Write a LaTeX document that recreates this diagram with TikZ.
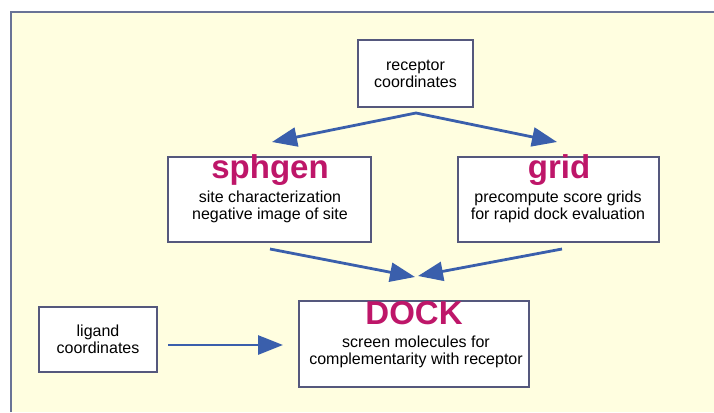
\documentclass[tikz,border=0pt]{standalone}
\usepackage{fontspec}
\setmainfont{Liberation Sans}
\usetikzlibrary{arrows.meta}

\definecolor{bgyellow}{RGB}{255,254,224}
\definecolor{frameblue}{RGB}{105,115,150}
\definecolor{boxline}{RGB}{85,88,125}
\definecolor{arrowblue}{RGB}{58,95,172}
\definecolor{titlered}{RGB}{190,22,105}

\tikzset{
  box/.style={draw=boxline, line width=1.4pt, fill=white, inner sep=0pt, align=center,
    font=\fontsize{16}{17}\selectfont},
  title/.style={anchor=base, inner sep=0pt, text=titlered,
    font=\fontsize{33}{36}\bfseries},
  desc/.style={align=center, inner sep=0pt, font=\fontsize{16}{17}\selectfont},
  flow/.style={->, draw=arrowblue, line width=2.8pt},
}

\begin{document}
\begin{tikzpicture}[x=1pt, y=-1pt, >={Triangle[length=25pt, width=19pt]}]
  \useasboundingbox (0,0) rectangle (714,412);
  % Hintergrund
  \fill[white] (0,0) rectangle (714,412);
  \fill[bgyellow] (11,12) rectangle (714,412);
  \draw[frameblue, line width=2pt] (11,412) -- (11,12) -- (714,12);
  % Eingaben
  \node[box, minimum width=115pt, minimum height=67pt] (rec) at (415.5,73.5) {receptor\\coordinates};
  \node[box, minimum width=118pt, minimum height=65pt] (lig) at (98,339.5) {ligand\\coordinates};
  % Vorbereitung
  \node[box, minimum width=203pt, minimum height=85pt] (sph) at (269.5,199.5) {};
  \node[title] (sphttl) at (270,178) {sphgen};
  \node[desc] (sphtxt) at (270,207) {site characterization\\negative image of site};
  \node[box, minimum width=201pt, minimum height=85pt] (grid) at (558.5,199.5) {};
  \node[title] (gridttl) at (559,178) {grid};
  \node[desc] (gridtxt) at (558,207) {precompute score grids\\for rapid dock evaluation};
  % Docking
  \node[box, minimum width=230pt, minimum height=86pt] (dock) at (414,344) {};
  \node[title] (dockttl) at (414,324) {DOCK};
  \node[desc] (docktxt) at (416,352) {screen molecules for\\complementarity with receptor};
  % Pfeilenden
  \coordinate (split) at (416,113);
  \coordinate (sphin) at (272,142);
  \coordinate (gridin) at (557,142);
  \coordinate (sphout) at (270,249);
  \coordinate (gridout) at (562,249);
  \coordinate (dockl) at (415,277);
  \coordinate (dockr) at (418,276);
  \coordinate (ligout) at (168,345);
  \coordinate (dockw) at (283,345);
  % Pfeile
  \draw[flow, <->] (sphin) -- (split) -- (gridin);
  \draw[flow] (sphout) -- (dockl);
  \draw[flow] (gridout) -- (dockr);
  \draw[flow] (ligout) -- (dockw);
\end{tikzpicture}
\end{document}
